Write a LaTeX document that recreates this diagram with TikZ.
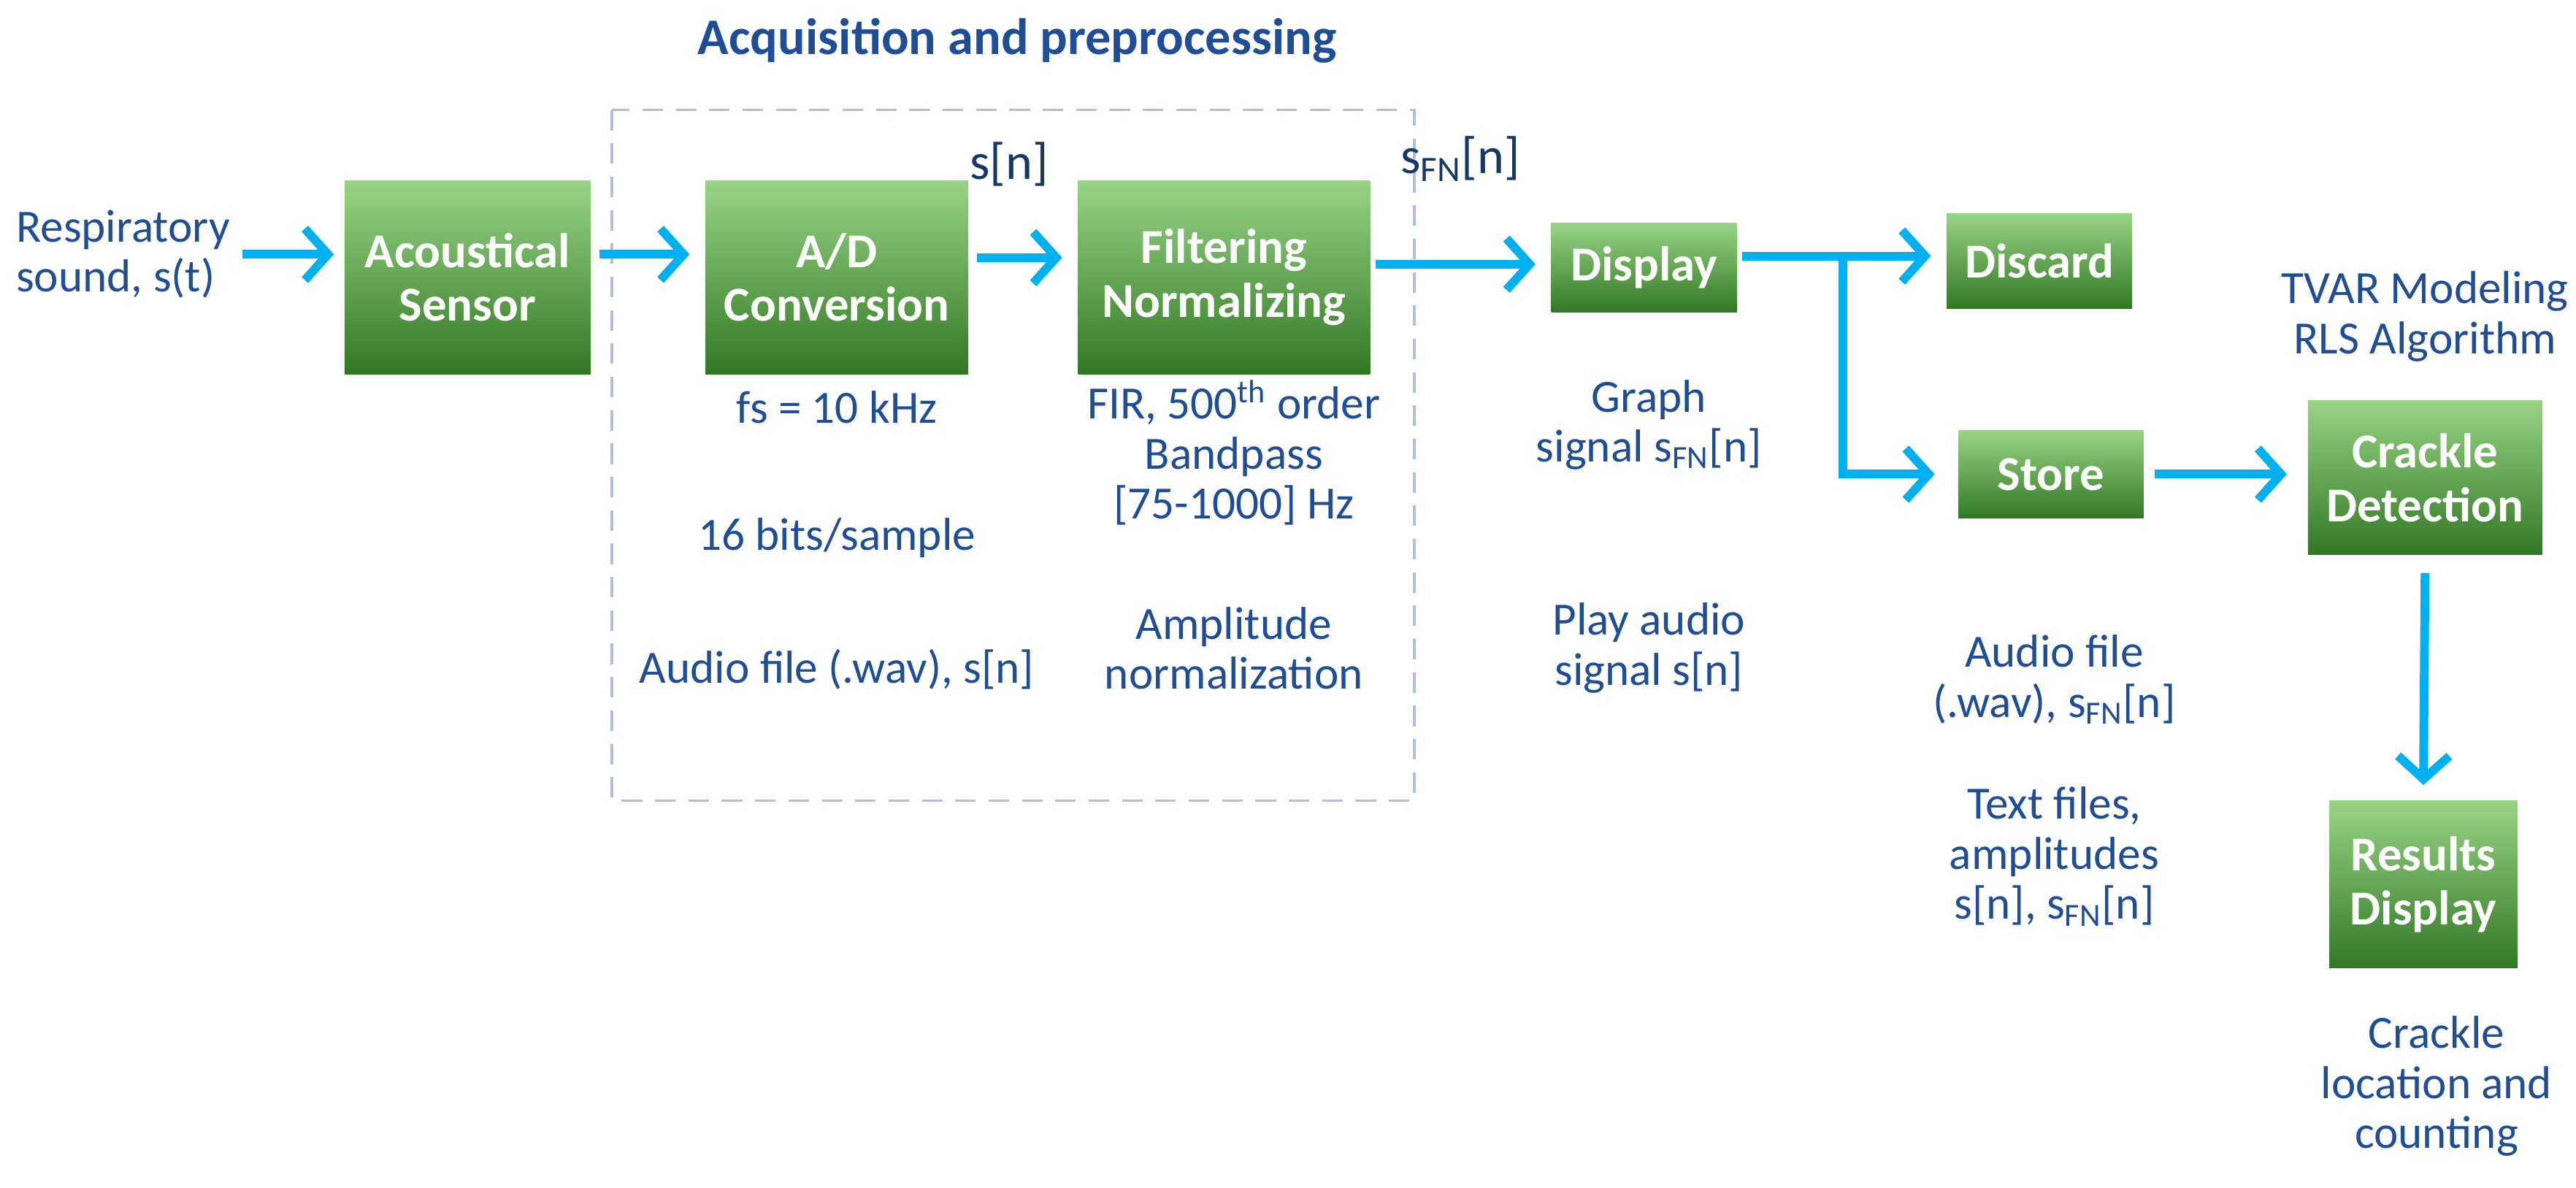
\documentclass[tikz,border=0pt]{standalone}
\usepackage{fontspec}
\setmainfont{Carlito}
\usetikzlibrary{arrows.meta}
\definecolor{txtblue}{RGB}{31,78,150}
\definecolor{flowcyan}{RGB}{0,176,240}
\definecolor{gtop}{RGB}{152,212,134}
\definecolor{gmid}{RGB}{80,172,58}
\definecolor{gbot}{RGB}{50,120,36}
\begin{document}
\begin{tikzpicture}[x=0.02247cm,y=-0.02247cm]
		\tikzset{block/.style={draw=none,top color=gtop,middle color=gmid,bottom color=gbot,
				text=white,font=\fontsize{19}{21}\selectfont\bfseries,align=center,inner sep=2pt},
			note/.style={text=txtblue,font=\fontsize{18}{19.5}\selectfont,align=center},
			flow/.style={draw=flowcyan,line width=3.4pt,-{Straight Barb[length=9pt,width=20pt,line width=3.4pt]}}}
		\useasboundingbox (0,0) rectangle (1570,724);
		% acquisition frame
		\draw[dashed,draw=txtblue!35,line width=1pt,dash pattern=on 8pt off 5pt] (373,67) rectangle (862,488);
		\node[text=txtblue,font=\fontsize{20}{22}\selectfont\bfseries] (title) at (620,25) {Acquisition and preprocessing};
		% blocks
		\node[block,minimum width=3.37cm,minimum height=2.65cm] (sensor) at (285,169) {Acoustical\\Sensor};
		\node[block,minimum width=3.6cm,minimum height=2.65cm] (adc) at (510,169) {A/D\\Conversion};
		\node[block,minimum width=4.0cm,minimum height=2.65cm] (filt) at (746,169) {Filtering\\Normalizing};
		\node[block,minimum width=2.54cm,minimum height=1.22cm] (disp) at (1002,163) {Display};
		\node[block,minimum width=2.54cm,minimum height=1.3cm] (discard) at (1243,159) {Discard};
		\node[block,minimum width=2.54cm,minimum height=1.2cm] (store) at (1250,289) {Store};
		\node[block,minimum width=3.21cm,minimum height=2.11cm] (crackle) at (1478,291) {Crackle\\Detection};
		\node[block,minimum width=2.58cm,minimum height=2.29cm] (results) at (1477,539) {Results\\Display};
		% texts
		\node[note,align=left] (resp) at (75,155) {Respiratory\\sound, s(t)};
		\node[text=txtblue!70!black,font=\fontsize{20}{22}\selectfont] (sn) at (615,100) {s[n]};
		\node[text=txtblue!70!black,font=\fontsize{20}{22}\selectfont] (sfn) at (890,97) {s\textsubscript{FN}[n]};
		\node[note] (fs) at (510,248) {fs = 10 kHz};
		\node[note] (bits) at (510,328) {16 bits/sample};
		\node[note] (wav) at (510,408) {Audio file (.wav), s[n]};
		\node[note] (fir) at (752,276) {FIR, 500\textsuperscript{th} order\\Bandpass\\{[}75-1000] Hz};
		\node[note] (ampl) at (752,395) {Amplitude\\normalization};
		\node[note] (graph) at (1005,259) {Graph\\signal s\textsubscript{FN}[n]};
		\node[note] (play) at (1005,395) {Play audio\\signal s[n]};
		\node[note] (afile) at (1252,414) {Audio file\\(.wav), s\textsubscript{FN}[n]};
		\node[note] (tfile) at (1252,522) {Text files,\\amplitudes\\s[n], s\textsubscript{FN}[n]};
		\node[note] (tvar) at (1478,193) {TVAR Modeling\\RLS Algorithm};
		\node[note] (count) at (1485,662) {Crackle\\location and\\counting};
		% connectors
		\draw[flow] (resp.east |- 0,155) ++(2,0) coordinate (r0) -- ([xshift=-4]sensor.west |- r0);
		\draw[flow] (sensor.east |- 0,155) ++(5,0) coordinate (s0) -- ([xshift=-6]adc.west |- s0);
		\draw[flow] (adc.east |- 0,157) ++(5,0) coordinate (a0) -- ([xshift=-6]filt.west |- a0);
		\draw[flow] (filt.east |- 0,161) ++(3,0) coordinate (f0) -- ([xshift=-6]disp.west |- f0);
		\draw[flow] (disp.east |- 0,156) ++(3,0) coordinate (d0) -- ([xshift=-6]discard.west |- d0);
		\coordinate (split) at (1123,156);
		\draw[flow] (split) |- ([xshift=-9]store.west);
		\draw[flow] ([xshift=4]store.east) -- ([xshift=-8]crackle.west |- store.east);
		\draw[flow] ([yshift=-7]crackle.south) -- ([yshift=6]results.north);
\end{tikzpicture}
\end{document}
